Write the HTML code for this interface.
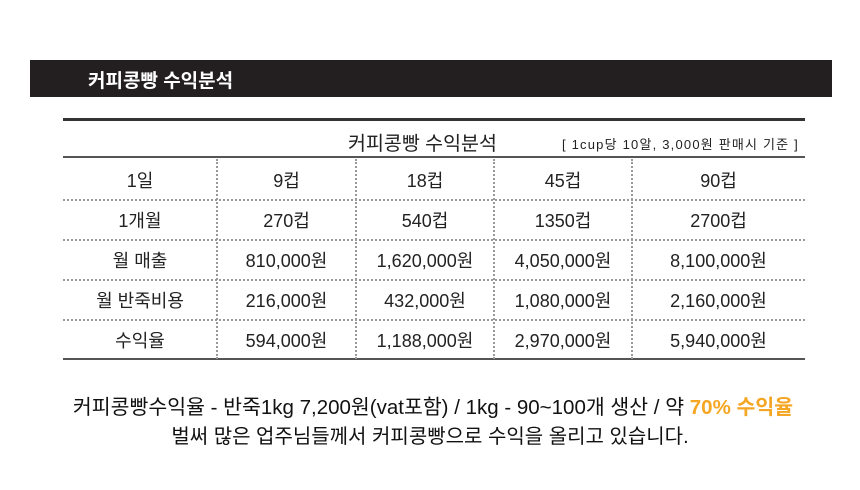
<!DOCTYPE html>
<html><head><meta charset="utf-8"><style>
body{margin:0;width:860px;height:490px;background:#fff;position:relative;overflow:hidden;font-family:"Liberation Sans","Noto Sans CJK KR",sans-serif;}
.bar{position:absolute;left:30px;top:60px;width:802px;height:37px;background:#231f20;}
.bar span{position:absolute;left:58px;top:6px;color:#fff;font-weight:bold;font-size:19px;}
.t{position:absolute;color:#222;font-size:18px;text-align:center;white-space:nowrap;}
.h{position:absolute;left:63px;width:742px;}
.v{position:absolute;top:159px;height:200px;border-left:2px dotted #999;}
</style></head><body>
<div class="bar"><span>커피콩빵 수익분석</span></div>
<div class="h" style="top:118px;height:3px;background:#333"></div>
<div class="t" style="left:348px;top:127px;font-size:19.5px">커피콩빵 수익분석</div>
<div class="t" style="left:562px;top:134px;font-size:13px;letter-spacing:1.2px">[ 1cup당 10알, 3,000원 판매시 기준 ]</div>
<div class="h" style="top:156px;height:2px;background:#555"></div>
<div class="h" style="top:199px;border-top:2px dotted #999"></div>
<div class="h" style="top:239px;border-top:2px dotted #999"></div>
<div class="h" style="top:279px;border-top:2px dotted #999"></div>
<div class="h" style="top:319px;border-top:2px dotted #999"></div>
<div class="h" style="top:358px;height:2px;background:#555"></div>
<div class="v" style="left:216px"></div>
<div class="v" style="left:355px"></div>
<div class="v" style="left:493px"></div>
<div class="v" style="left:631px"></div>
<div id="rows"></div>
<script>
var d=[["1일","9컵","18컵","45컵","90컵"],["1개월","270컵","540컵","1350컵","2700컵"],["월 매출","810,000원","1,620,000원","4,050,000원","8,100,000원"],["월 반죽비용","216,000원","432,000원","1,080,000원","2,160,000원"],["수익율","594,000원","1,188,000원","2,970,000원","5,940,000원"]];
var xs=[63,217,356,494,632,805],h="";
d.forEach(function(r,i){r.forEach(function(c,j){h+='<div class="t" style="left:'+xs[j]+'px;width:'+(xs[j+1]-xs[j])+'px;top:'+(167+i*40)+'px">'+c+'</div>';});});
document.getElementById('rows').innerHTML=h;
</script>
<div class="t" style="left:0;width:866px;top:390px;font-size:20.5px;color:#111">커피콩빵수익율 - 반죽1kg 7,200원(vat포함) / 1kg - 90~100개 생산 / 약 <b style="color:#f5a623">70% 수익율</b></div>
<div class="t" style="left:0;width:860px;top:420px;font-size:20px;color:#111">벌써 많은 업주님들께서 커피콩빵으로 수익을 올리고 있습니다.</div>
</body></html>
